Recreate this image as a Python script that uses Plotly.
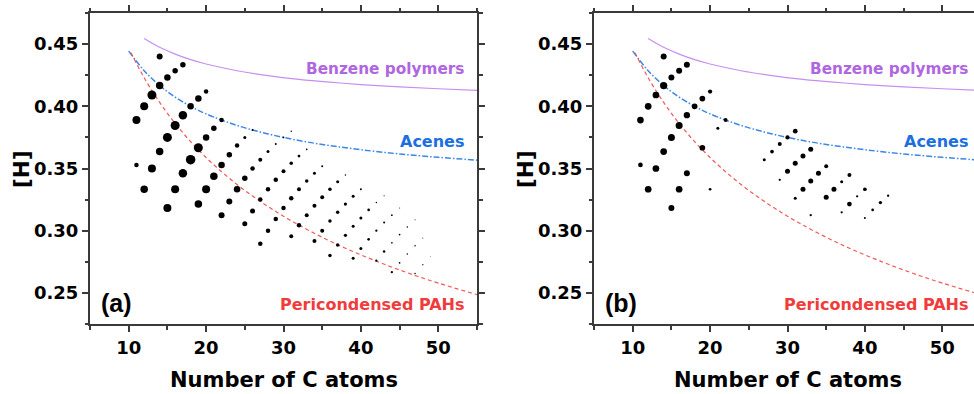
import plotly.graph_objects as go

# ---------------- data ----------------
# panel (a): all structures
a_C = [11, 11, 12, 12, 13, 13, 14, 14, 14, 15, 15, 15, 16, 16, 16, 17, 17, 17, 18, 18,
       19, 19, 19, 20, 20, 20, 21, 21, 22, 22, 22, 23, 23, 24, 24, 25, 25, 25, 26, 26, 26,
       27, 27, 27, 28, 28, 28, 29, 29, 29, 30, 30, 30, 31, 31, 31, 31, 32, 32, 32, 33, 33, 33,
       34, 34, 34, 35, 35, 35, 36, 36, 36, 37, 37, 37, 38, 38, 38, 39, 39, 39, 40, 40, 40,
       41, 41, 42, 42, 42, 43, 43, 43, 44, 44, 44, 45, 45, 45, 46, 46, 47, 47, 47, 48, 48, 49]
a_H = [0.3889, 0.3529, 0.4000, 0.3333, 0.4091, 0.3500, 0.4400, 0.4167, 0.3636,
       0.4231, 0.3750, 0.3182, 0.4286, 0.3846, 0.3333, 0.4333, 0.3929, 0.3462,
       0.4000, 0.3571, 0.4062, 0.3667, 0.3214, 0.4118, 0.3750, 0.3333, 0.3824, 0.3438,
       0.3889, 0.3529, 0.3125, 0.3611, 0.3235, 0.3684, 0.3333, 0.3750, 0.3421, 0.3056,
       0.3810, 0.3500, 0.3158, 0.3571, 0.3250, 0.2895, 0.3636, 0.3333, 0.3000,
       0.3696, 0.3409, 0.3095, 0.3750, 0.3478, 0.3182, 0.3800, 0.3542, 0.3261, 0.2955,
       0.3600, 0.3333, 0.3043, 0.3654, 0.3400, 0.3125, 0.3462, 0.3200, 0.2917,
       0.3519, 0.3269, 0.3000, 0.3333, 0.3077, 0.2800, 0.3393, 0.3148, 0.2885,
       0.3448, 0.3214, 0.2963, 0.3276, 0.3036, 0.2778, 0.3333, 0.3103, 0.2857,
       0.3167, 0.2931, 0.3226, 0.3000, 0.2759, 0.3281, 0.3065, 0.2833,
       0.3125, 0.2903, 0.2667, 0.3182, 0.2969, 0.2742, 0.3030, 0.2813,
       0.3088, 0.2879, 0.2656, 0.2941, 0.2727, 0.2794]
a_size = [8, 4.5, 8, 7.5, 9, 8, 6, 7.5, 7.5, 6.5, 9, 8, 5.5, 9, 8, 5.5, 8.5, 8.5, 6.5, 9.5,
          6.5, 9, 7.5, 4.5, 6.5, 8, 5.5, 7.5, 4.5, 6.5, 6, 5.5, 6, 4.5, 6.5, 3, 5.5, 5, 2, 4.5, 5,
          4, 4.5, 4.5, 3, 4.5, 4.5, 2, 4.5, 4.5, 1.7, 4, 4.5, 1.5, 3.5, 4.5, 4, 2.7, 4, 4.5,
          1.7, 3.5, 4, 3, 4, 4, 2, 4, 4, 3.5, 3.5, 3.5, 3, 3.5, 3.5, 1.5, 3.2, 3.3, 3, 3, 3,
          2, 3, 3, 2.7, 2.7, 1.5, 2.3, 2.3, 1.2, 2, 2.5, 1.7, 1.7, 2.3, 1, 1.7, 1.7, 1.5, 1.5,
          1, 1.5, 1.5, 1, 1.3, 0.8]

# panel (b): subset
b_C = [11, 11, 12, 12, 13, 13, 14, 14, 14, 15, 15, 15, 16, 16, 16, 17, 17, 17, 18,
       19, 19, 20, 20, 21, 22, 27, 28, 29, 29, 30, 30, 31, 31, 31, 32, 32, 33, 33, 33,
       34, 35, 35, 36, 37, 37, 38, 38, 39, 40, 40, 41, 42, 43]
b_H = [0.3889, 0.3529, 0.4000, 0.3333, 0.4091, 0.3500, 0.4400, 0.4167, 0.3636,
       0.4231, 0.3750, 0.3182, 0.4286, 0.3846, 0.3333, 0.4333, 0.3929, 0.3462, 0.4000,
       0.4062, 0.3667, 0.4118, 0.3333, 0.3824, 0.3889, 0.3571, 0.3636, 0.3696, 0.3409,
       0.3750, 0.3478, 0.3800, 0.3542, 0.3261, 0.3600, 0.3333, 0.3654, 0.3400, 0.3125,
       0.3462, 0.3519, 0.3269, 0.3333, 0.3393, 0.3148, 0.3448, 0.3214, 0.3276,
       0.3333, 0.3103, 0.3167, 0.3226, 0.3281]
b_size = [6.7, 4.7, 6.7, 6.7, 6.7, 6.7, 6, 7.3, 6.7, 6, 7, 6, 6, 7, 6.7, 6, 6.3, 6, 5.7,
          5.7, 5.7, 4.3, 2.7, 3, 4, 3, 3.7, 4, 2.3, 4.3, 5, 4.7, 5, 3, 5, 5, 5, 5, 2.3,
          5, 4, 5, 5, 3, 2.3, 4, 4.7, 2.3, 3.7, 2, 2.7, 3.3, 2.3]

# reference curves
benz_C = [12, 14, 16, 18, 20, 24, 28, 32, 36, 40, 45, 50, 55]
benz_H = [0.4545, 0.4474, 0.4419, 0.4375, 0.4340, 0.4286, 0.4247, 0.4217, 0.4194,
          0.4175, 0.4156, 0.4141, 0.4128]
acene_C = [10, 12, 14, 16, 18, 20, 24, 28, 32, 36, 40, 45, 50, 55]
acene_H = [0.4444, 0.4286, 0.4167, 0.4074, 0.4000, 0.3939, 0.3846, 0.3778, 0.3725,
           0.3684, 0.3651, 0.3617, 0.3590, 0.3567]
peri_C = [10.3, 12, 14, 16, 18, 20, 22, 24, 26, 28, 30, 32, 35, 38, 42, 46, 50, 55]
peri_H = [0.4430, 0.4229, 0.4031, 0.3862, 0.3716, 0.3588, 0.3474, 0.3371, 0.3279,
          0.3194, 0.3116, 0.3045, 0.2947, 0.2859, 0.2755, 0.2662, 0.2579, 0.2486]

x_ticks = [10, 20, 30, 40, 50]
y_ticks = [0.25, 0.30, 0.35, 0.40, 0.45]

# ---------------- styling ----------------
W, H = 974, 394
PURPLE, PURPLE_T = "#c78ff0", "#b066e0"
BLUE, BLUE_T = "#3d86ea", "#1c6fe0"
RED, RED_T = "#f25a5a", "#f03c3c"
AX = "#3a3a3a"
FONT = "DejaVu Sans"

fig = go.Figure()

for xa, ya, Cs, Hs, Ss in [("x", "y", a_C, a_H, a_size), ("x2", "y2", b_C, b_H, b_size)]:
    fig.add_trace(go.Scatter(x=benz_C, y=benz_H, mode="lines", xaxis=xa, yaxis=ya,
                             line=dict(color=PURPLE, width=1.2, shape="spline"), showlegend=False))
    fig.add_trace(go.Scatter(x=acene_C, y=acene_H, mode="lines", xaxis=xa, yaxis=ya,
                             line=dict(color=BLUE, width=1.5, shape="spline", dash="6px,2px,1.5px,2px"),
                             showlegend=False))
    fig.add_trace(go.Scatter(x=peri_C, y=peri_H, mode="lines", xaxis=xa, yaxis=ya,
                             line=dict(color=RED, width=1.2, shape="spline", dash="4px,3px"),
                             showlegend=False))
    fig.add_trace(go.Scatter(x=Cs, y=Hs, mode="markers", xaxis=xa, yaxis=ya,
                             marker=dict(color="black", size=Ss, opacity=1, line=dict(width=0)),
                             showlegend=False))

left_a, right_a = 90, 477
left_b = 594
top, bottom = 13, 324
px_per_unit = (right_a - left_a) / 50.0
xmax_b = 5 + (W - left_b) / px_per_unit

tickfont = dict(family=FONT, size=18, color="black", weight="bold")
common_x = dict(range=[5, 55], tickvals=x_ticks, ticks="outside", ticklen=6, tickwidth=1.5,
                tickcolor=AX, showline=True, linecolor=AX, linewidth=2, showgrid=False,
                zeroline=False, tickfont=tickfont,
                minor=dict(dtick=5, tick0=0, ticks="outside", ticklen=3.5, tickwidth=1.5, tickcolor=AX))
common_y = dict(range=[0.225, 0.475], tickvals=y_ticks, tickformat=".2f", ticks="outside",
                ticklen=6, tickwidth=1.5, tickcolor=AX, showline=True, linecolor=AX, linewidth=2,
                showgrid=False, zeroline=False, tickfont=tickfont,
                minor=dict(dtick=0.025, tick0=0, ticks="outside", ticklen=3.5, tickwidth=1.5, tickcolor=AX))

yd = [1 - bottom / H, 1 - top / H]
fig.update_layout(
    width=W, height=H, margin=dict(l=0, r=0, t=0, b=0),
    paper_bgcolor="white", plot_bgcolor="white",
    xaxis=dict(common_x, domain=[left_a / W, right_a / W], anchor="y", mirror="allticks"),
    yaxis=dict(common_y, domain=yd, anchor="x", mirror="allticks"),
    xaxis2=dict(common_x, range=[5, xmax_b], domain=[left_b / W, 1.0], anchor="y2", mirror="allticks"),
    yaxis2=dict(common_y, domain=yd, anchor="x2", mirror=False),
)

ann = []
for off, lab in [(0, "(a)"), (504, "(b)")]:
    ann.append(dict(x=(283.5 + off) / W, y=0, xref="paper", yref="paper",
                    text="<b>Number of C atoms</b>", showarrow=False,
                    font=dict(family=FONT, size=21, color="black"), xanchor="center", yanchor="bottom"))
    ann.append(dict(x=(21 + off) / W, y=1 - 169 / H, xref="paper", yref="paper",
                    text="<b>[H]</b>", showarrow=False, textangle=-90,
                    font=dict(family=FONT, size=21.5, color="black"), xanchor="center", yanchor="middle"))
    ann.append(dict(x=(466 + off) / W, y=1 - 69 / H, xref="paper", yref="paper",
                    text="<b>Benzene polymers</b>", showarrow=False,
                    font=dict(family=FONT, size=15.3, color=PURPLE_T), xanchor="right", yanchor="middle"))
    ann.append(dict(x=(466 + off) / W, y=1 - 141 / H, xref="paper", yref="paper",
                    text="<b>Acenes</b>", showarrow=False,
                    font=dict(family=FONT, size=16, color=BLUE_T), xanchor="right", yanchor="middle"))
    ann.append(dict(x=(466 + off) / W, y=1 - 304 / H, xref="paper", yref="paper",
                    text="<b>Pericondensed PAHs</b>", showarrow=False,
                    font=dict(family=FONT, size=16, color=RED_T), xanchor="right", yanchor="middle"))
    ann.append(dict(x=(99 + off) / W, y=1 - 303 / H, xref="paper", yref="paper",
                    text="<b>" + lab + "</b>", showarrow=False,
                    font=dict(family="Liberation Sans", size=25, color="black"), xanchor="left", yanchor="middle"))
fig.update_layout(annotations=ann)

fig.write_html("out.html")
